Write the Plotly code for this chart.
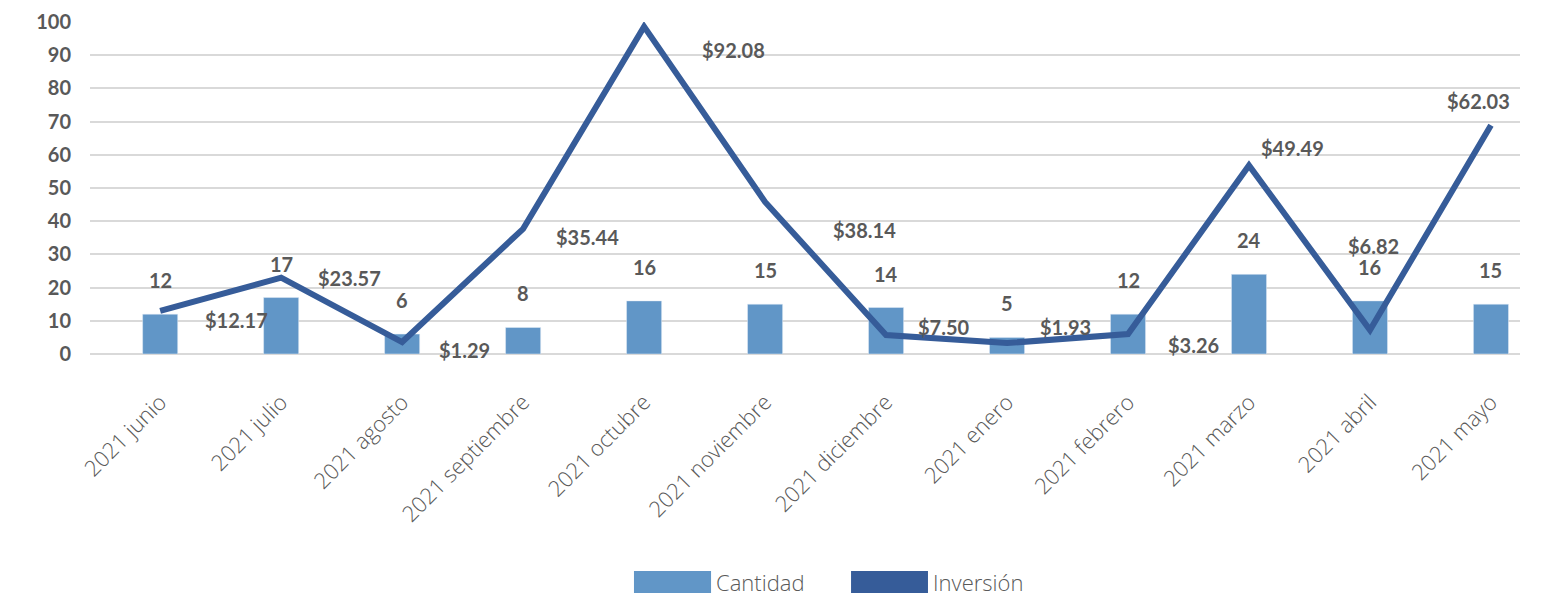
import plotly.graph_objects as go

categories = ["2021 junio", "2021 julio", "2021 agosto", "2021 septiembre", "2021 octubre",
              "2021 noviembre", "2021 diciembre", "2021 enero", "2021 febrero", "2021 marzo",
              "2021 abril", "2021 mayo"]
cantidad = [12, 17, 6, 8, 16, 15, 14, 5, 12, 24, 16, 15]
inversion = [13.0, 23.0, 3.6, 37.7, 98.6, 45.8, 5.7, 3.3, 6.0, 56.8, 7.2, 68.9]
inversion_labels = ["$12.17", "$23.57", "$1.29", "$35.44", "$92.08", "$38.14",
                    "$7.50", "$1.93", "$3.26", "$49.49", "$6.82", "$62.03"]
series_names = ["Cantidad", "Inversión"]

# label offsets (pixels) relative to the line points
lbl_dx = [76, 68, 62, 64, 89, 99, 58, 58, 65, 43, 4, -12]
lbl_dy = [-9, 0, -8, -8, -23, -28, 8, 16, -11, 17, 84, 24]

BAR = "#6196C7"
LINE = "#365C99"
TXT = "#595959"
LBL_FONT = dict(family="Lato", size=20, color=TXT, weight="bold")

fig = go.Figure()
fig.add_trace(go.Bar(x=categories, y=cantidad, name=series_names[0], marker_color=BAR,
                     width=0.29, showlegend=False))
fig.add_trace(go.Scatter(x=categories, y=inversion, name=series_names[1], mode="lines",
                         line=dict(color=LINE, width=6), showlegend=False))

ann = []
for c, v in zip(categories, cantidad):
    ann.append(dict(x=c, y=v, text=str(v), showarrow=False, yanchor="bottom", yshift=20,
                    font=LBL_FONT))
for c, v, t, dx, dy in zip(categories, inversion, inversion_labels, lbl_dx, lbl_dy):
    ann.append(dict(x=c, y=v, text=t, showarrow=False, xshift=dx, yshift=dy, font=LBL_FONT))

# Excel-style legend (wide colour blocks)
shapes = []
leg = [(series_names[0], BAR, 0.3804, 0.4343), (series_names[1], LINE, 0.5322, 0.5860)]
for name, col, x0, x1 in leg:
    shapes.append(dict(type="rect", xref="paper", yref="paper", x0=x0, x1=x1,
                       y0=-0.7199, y1=-0.6536, fillcolor=col, line=dict(width=0)))
    ann.append(dict(xref="paper", yref="paper", x=x1 + 0.002, y=-0.6867, text=name,
                    showarrow=False, xanchor="left", yanchor="middle",
                    font=dict(family="Open Sans", size=22, color=TXT, weight=300)))

fig.update_layout(
    width=1558, height=598,
    margin=dict(l=82, r=46, t=14, b=252, autoexpand=False),
    plot_bgcolor="white", paper_bgcolor="white",
    showlegend=False,
    annotations=ann,
    shapes=shapes,
    bargap=0.7,
)
fig.update_xaxes(type="category", range=[-0.58, 11.24], tickangle=-45,
                 tickfont=dict(family="Open Sans", size=22, color=TXT, weight=300),
                 showgrid=False, showline=False, ticks="", ticklabelstandoff=30)
fig.update_yaxes(range=[0, 100], dtick=10, showgrid=True, gridcolor="#D9D9D9", gridwidth=2,
                 zeroline=True, zerolinecolor="#D9D9D9", zerolinewidth=2,
                 tickfont=dict(family="Lato", size=20, color=TXT, weight="bold"),
                 ticklabelstandoff=18)

fig.write_html("out.html")
